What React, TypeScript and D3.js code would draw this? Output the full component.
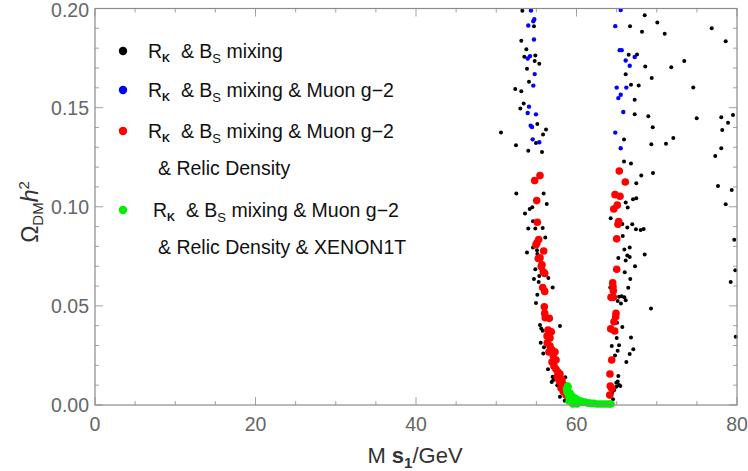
import React from 'react'
import * as d3 from 'd3'

// Ms1 (GeV), Omega h^2
const blackPoints: [number, number][] = [
    [53.25, 0.1989], [54.7, 0.1911], [53.12, 0.1837], [53.75, 0.1794], [53.5, 0.1757], [54.87, 0.1763],
    [54.79, 0.1735], [55.36, 0.1721], [53.83, 0.1696], [54.08, 0.1631], [52.37, 0.1594], [53.12, 0.1582],
    [53.42, 0.1521], [53.0, 0.1495], [55.12, 0.1417], [56.2, 0.139], [50.59, 0.1374], [55.83, 0.1365],
    [52.46, 0.131], [53.99, 0.1283], [55.7, 0.1276], [54.95, 0.1321], [52.5, 0.1067], [55.91, 0.1067],
    [56.29, 0.1014], [54.49, 0.0998], [54.17, 0.0989], [53.58, 0.0966], [54.58, 0.0927], [53.99, 0.089],
    [54.87, 0.089], [55.79, 0.0893], [56.11, 0.0845], [54.58, 0.0794], [55.08, 0.0781], [53.83, 0.0769],
    [55.12, 0.0762], [54.87, 0.0685], [55.36, 0.0651], [54.7, 0.0636], [56.49, 0.064], [56.2, 0.0669],
    [55.29, 0.062], [57.03, 0.0593], [55.12, 0.0556], [54.95, 0.0515], [55.45, 0.0403], [55.61, 0.0386],
    [55.79, 0.0374], [57.94, 0.0398], [55.54, 0.0314], [55.95, 0.0291], [55.86, 0.026], [56.45, 0.018],
    [57.03, 0.0143], [57.11, 0.0126], [56.91, 0.0116], [57.61, 0.0099], [58.11, 0.0076], [58.6, 0.014],
    [57.94, 0.0042], [58.53, 0.0022], [57.53, 0.0176],
    [68.5, 0.1966], [70.07, 0.193], [66.67, 0.1911], [68.16, 0.1883], [70.99, 0.1873], [66.5, 0.1767],
    [67.54, 0.1768], [68.57, 0.1708], [71.81, 0.1704], [66.13, 0.1668], [69.37, 0.1649], [66.79, 0.1616],
    [67.75, 0.1611], [67.25, 0.154], [67.25, 0.1466], [68.95, 0.1456], [69.5, 0.1401], [65.92, 0.1339],
    [72.06, 0.1347], [69.32, 0.1315], [71.15, 0.1318], [65.92, 0.1228], [66.79, 0.1218], [68.07, 0.1157],
    [69.53, 0.117], [67.45, 0.1118], [66.13, 0.1021], [67.04, 0.1038], [67.45, 0.1043], [66.38, 0.0996],
    [64.26, 0.0942], [65.71, 0.0913], [66.95, 0.0912], [66.33, 0.0895], [67.41, 0.0887], [68.0, 0.0883],
    [68.37, 0.0888], [65.76, 0.0853], [65.96, 0.0784], [66.63, 0.0794], [66.33, 0.0754], [66.63, 0.0746],
    [65.21, 0.0742], [68.5, 0.0759], [66.13, 0.0729], [67.29, 0.07], [66.01, 0.0669], [66.7, 0.0636],
    [66.45, 0.0591], [64.21, 0.0593], [65.3, 0.0546], [65.63, 0.0549], [65.96, 0.0543], [66.13, 0.0529],
    [65.13, 0.0525], [65.54, 0.0512], [69.28, 0.0487], [65.05, 0.0415], [65.71, 0.0394], [65.01, 0.0338],
    [66.79, 0.0341], [64.39, 0.0297], [65.3, 0.0302], [67.08, 0.0281], [65.13, 0.0274], [66.63, 0.0257],
    [64.8, 0.025], [66.21, 0.0217], [65.21, 0.0146], [65.13, 0.0119], [65.3, 0.0101], [64.96, 0.0092],
    [65.46, 0.0096], [64.71, 0.0076], [64.46, 0.0065], [64.39, 0.0055], [64.55, 0.0029], [64.96, 0.0112],
    [76.85, 0.1901], [78.59, 0.1835], [73.43, 0.1735], [74.55, 0.1601], [74.98, 0.1446], [78.04, 0.1452],
    [79.5, 0.1463], [78.88, 0.1424], [78.16, 0.1387], [78.04, 0.1295], [77.29, 0.1256], [77.63, 0.1105],
    [79.34, 0.1085], [78.59, 0.1013], [79.66, 0.0833], [79.79, 0.068], [79.21, 0.062], [79.84, 0.0344],
]

const bluePoints: [number, number][] = [
    [54.74, 0.1946], [54.62, 0.1936], [53.99, 0.1914], [54.7, 0.1844], [53.92, 0.1748], [54.21, 0.176],
    [54.79, 0.1669], [54.62, 0.1611], [54.08, 0.1505], [53.92, 0.1473], [54.95, 0.1466], [54.29, 0.1409],
    [54.46, 0.1402], [54.54, 0.134], [55.36, 0.1325], [54.33, 0.199],
    [64.83, 0.1911], [65.38, 0.179], [65.63, 0.179], [67.25, 0.1755], [66.13, 0.1738], [66.63, 0.1711],
    [65.01, 0.1601], [66.21, 0.1601], [65.51, 0.1565], [65.21, 0.1548], [65.83, 0.1478], [64.83, 0.1374],
    [65.51, 0.1295], [65.51, 0.1992],
]

const redPoints: [number, number][] = [
    [55.45, 0.1157], [54.79, 0.1132], [55.04, 0.1031], [55.12, 0.0922], [55.29, 0.0835], [55.08, 0.0818],
    [54.95, 0.0808], [55.91, 0.0777], [55.45, 0.0742], [55.24, 0.0739], [55.7, 0.0707], [55.61, 0.0699],
    [55.86, 0.0672], [56.04, 0.0663], [55.79, 0.0593], [56.04, 0.0573], [55.99, 0.0495], [56.04, 0.0462],
    [56.11, 0.044], [56.61, 0.0437], [56.45, 0.0378], [56.86, 0.0369], [56.36, 0.0314], [56.7, 0.0297],
    [56.95, 0.0277], [57.11, 0.0247], [57.11, 0.0213], [57.45, 0.018], [57.61, 0.0143], [57.94, 0.0116],
    [58.19, 0.0092], [58.36, 0.0067], [58.69, 0.005], [56.7, 0.0338], [57.32, 0.0267], [57.45, 0.0227],
    [57.2, 0.0196], [57.69, 0.0166], [57.94, 0.0156], [57.82, 0.0126], [58.19, 0.0126], [58.44, 0.0101],
    [58.07, 0.0086], [56.95, 0.0217], [56.57, 0.0267], [56.33, 0.0348],
    [65.33, 0.118], [66.08, 0.1125], [64.8, 0.1061], [65.42, 0.1053], [65.08, 0.1008], [64.64, 0.0989],
    [65.26, 0.0925], [65.17, 0.0912], [65.01, 0.0838], [65.01, 0.0685], [64.51, 0.0616], [64.55, 0.0596],
    [64.59, 0.0576], [64.3, 0.0543], [64.59, 0.0543], [64.92, 0.0462], [64.88, 0.0445], [64.67, 0.042],
    [64.26, 0.0384], [64.76, 0.0373], [64.39, 0.0227], [64.17, 0.0156], [64.21, 0.0096], [64.39, 0.0084],
    [64.14, 0.005],
]

const greenPoints: [number, number][] = [
    [58.9, 0.0096], [58.75, 0.0081], [58.82, 0.0066], [58.94, 0.0091], [59.0, 0.005], [59.19, 0.006],
    [59.19, 0.0035], [59.44, 0.0045], [59.56, 0.0025], [59.81, 0.0035], [59.94, 0.002], [60.19, 0.0025],
    [60.31, 0.0015], [60.56, 0.002], [60.81, 0.0013], [61.06, 0.0015], [61.31, 0.001], [61.56, 0.001],
    [61.81, 0.0008], [62.18, 0.0008], [62.55, 0.0005], [62.93, 0.0005], [63.3, 0.0005], [63.68, 0.0005],
    [64.05, 0.0005], [64.3, 0.0005], [59.56, 0.0005], [60.06, 0.0005], [59.07, 0.002],
]

const xTicks = [0, 20, 40, 60, 80]
const yTicks = [0, 0.05, 0.1, 0.15, 0.2]

const width = 748
const height = 471
const margin = { top: 8.5, right: 11, bottom: 66, left: 95 }

const App: React.FC = () => {
    const x = d3.scaleLinear().domain([0, 80]).range([margin.left, width - margin.right])
    const y = d3.scaleLinear().domain([0, 0.2]).range([height - margin.bottom, margin.top])
    const x0 = margin.left
    const x1 = width - margin.right
    const y0 = height - margin.bottom
    const y1 = margin.top
    const frame = '#8a8a8a'
    const tickFont = 'Liberation Sans, Arial, sans-serif'
    const nb = '\u00a0'

    const xMinor = d3.range(0, 81, 5)
    const yMinor = d3.range(0, 0.2001, 0.01)

    const legendRows = [
        { color: '#000000', cy: 51, tx: 148, extra: '', line2: '' },
        { color: '#0000ff', cy: 90, tx: 148, extra: ' & Muon g\u22122', line2: '' },
        { color: '#ff0000', cy: 131, tx: 148, extra: ' & Muon g\u22122', line2: '& Relic Density' },
        { color: '#00ee00', cy: 210, tx: 153, extra: ' & Muon g\u22122', line2: '& Relic Density & XENON1T' },
    ]

    return (
        <div style={{ position: 'absolute', left: 0, top: 0 }}>
            <svg width={width} height={height} style={{ display: 'block', background: '#fff' }}>
                {/* minor + major ticks, all four sides */}
                <g stroke={frame} strokeWidth={0.8}>
                    {xMinor.map(v => {
                        const len = v % 20 === 0 ? 8 : 4
                        return (
                            <g key={'xm' + v}>
                                <line x1={x(v)} x2={x(v)} y1={y0} y2={y0 - len} />
                                <line x1={x(v)} x2={x(v)} y1={y1} y2={y1 + len} />
                            </g>
                        )
                    })}
                    {yMinor.map((v, i) => {
                        const len = i % 5 === 0 ? 8 : 4
                        return (
                            <g key={'ym' + i}>
                                <line x1={x0} x2={x0 + len} y1={y(v)} y2={y(v)} />
                                <line x1={x1} x2={x1 - len} y1={y(v)} y2={y(v)} />
                            </g>
                        )
                    })}
                </g>

                {/* data */}
                <g>
                    {blackPoints.map((d, i) => (
                        <circle key={'k' + i} cx={x(d[0])} cy={y(d[1])} r={2} fill="#000" />
                    ))}
                    {bluePoints.map((d, i) => (
                        <circle key={'b' + i} cx={x(d[0])} cy={y(d[1])} r={2.2} fill="#0000ff" />
                    ))}
                    {redPoints.map((d, i) => (
                        <circle key={'r' + i} cx={x(d[0])} cy={y(d[1])} r={3.8} fill="#ff0000" />
                    ))}
                    {greenPoints.map((d, i) => (
                        <circle key={'g' + i} cx={x(d[0])} cy={y(d[1])} r={3.8} fill="#00ee00" />
                    ))}
                </g>

                <rect x={x0} y={y1} width={x1 - x0} height={y0 - y1} fill="none" stroke={frame} strokeWidth={1.2} />

                {/* tick labels */}
                <g fill="#666" fontFamily={tickFont} fontSize={19.5}>
                    {xTicks.map(v => (
                        <text key={'xt' + v} x={x(v)} y={y0 + 26} textAnchor="middle">{v}</text>
                    ))}
                    {yTicks.map(v => (
                        <text key={'yt' + v} x={x0 - 6} y={Math.max(y(v) + 7, 16.5)} textAnchor="end">{v.toFixed(2)}</text>
                    ))}
                </g>

                {/* axis titles */}
                <text x={415} y={463} textAnchor="middle" fontFamily={tickFont} fontSize={22} fill="#333">
                    M<tspan fontWeight="bold">{nb}s</tspan>
                    <tspan fontSize={15} fontWeight="bold" dy={5}>1</tspan>
                    <tspan dy={-5}>/GeV</tspan>
                </text>
                <text transform="translate(38,212) rotate(-90)" textAnchor="middle" fontFamily={tickFont} fontSize={23} fill="#333">
                    Ω<tspan fontSize={15} dy={5}>DM</tspan>
                    <tspan dy={-5} fontStyle="italic">h</tspan>
                    <tspan fontSize={15} dy={-9}>2</tspan>
                </text>

                {/* legend */}
                <g fontFamily={tickFont} fontSize={19.5} fill="#111">
                    {legendRows.map((r, i) => (
                        <g key={'lg' + i}>
                            <circle cx={123} cy={r.cy} r={4.2} fill={r.color} />
                            <text x={r.tx} y={r.cy + 7}>
                                R<tspan fontSize={11} fontWeight="bold" dy={4}>K</tspan>
                                <tspan dy={-4}>{nb + ' & B'}</tspan>
                                <tspan fontSize={13} dy={5}>S</tspan>
                                <tspan dy={-5}>{' mixing' + r.extra}</tspan>
                            </text>
                            {r.line2 && (
                                <text x={158} y={r.cy + 44}>{r.line2}</text>
                            )}
                        </g>
                    ))}
                </g>
            </svg>
        </div>
    )
}

export default App
